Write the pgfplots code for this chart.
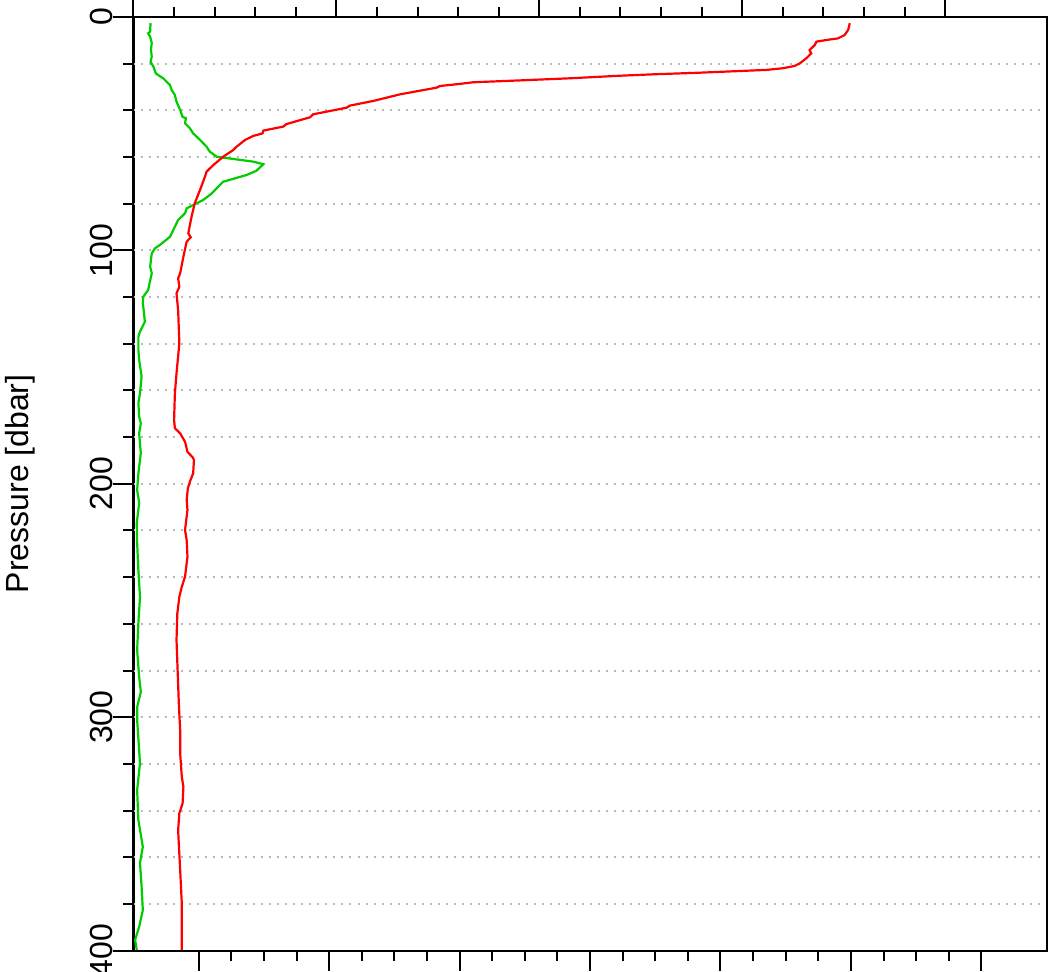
\documentclass[border=0pt]{standalone}
\usepackage{fontspec}
\setmainfont{Liberation Sans}
\usepackage{pgfplots}
\pgfplotsset{compat=1.18}
\definecolor{ctdred}{RGB}{255,0,0}
\definecolor{ctdgreen}{RGB}{0,204,0}
\definecolor{gridgray}{RGB}{185,185,185}

\pgfplotstableread{
T p
17.65 2.7
17.61 5.6
17.52 7.8
17.36 9.2
17.07 9.9
16.83 10.6
16.79 12.0
16.66 14.2
16.70 15.6
16.58 17.7
16.42 19.9
16.29 21.0
16.00 22.0
15.60 22.7
14.77 23.3
13.95 23.9
12.80 24.6
11.98 25.2
10.75 26.3
9.52 27.2
8.37 28.0
8.04 28.7
7.55 29.6
7.47 30.3
7.06 31.6
6.56 33.2
5.91 36.0
5.33 38.0
5.25 38.9
4.43 41.7
4.35 43.0
3.77 45.9
3.69 47.0
3.20 48.7
3.18 49.9
2.95 51.0
2.75 52.7
2.54 55.6
2.46 57.0
2.21 59.9
1.97 63.4
1.80 66.3
1.76 68.5
1.64 74.1
1.51 79.8
1.43 85.6
1.35 92.7
1.41 94.4
1.31 96.3
1.23 102.7
1.15 109.8
1.10 112.0
1.13 115.6
1.06 118.4
1.10 125.6
1.13 139.8
1.06 152.7
1.02 161.2
1.00 172.7
1.02 176.2
1.15 178.4
1.27 182.0
1.33 186.3
1.46 188.7
1.49 189.8
1.47 195.5
1.39 199.1
1.34 201.9
1.31 206.9
1.33 211.2
1.27 219.8
1.31 224.1
1.33 231.2
1.27 239.8
1.19 244.1
1.13 248.4
1.08 255.5
1.06 266.9
1.09 281.2
1.12 295.5
1.15 305.5
1.15 315.4
1.19 325.5
1.23 329.8
1.21 336.9
1.13 341.1
1.10 348.3
1.12 355.5
1.15 365.4
1.19 379.7
1.19 399.7
}\redprofile

\pgfplotstableread{
T p
0.42 2.7
0.41 6.3
0.36 7.0
0.41 8.5
0.45 11.1
0.43 14.2
0.45 17.0
0.42 19.2
0.49 21.3
0.55 24.2
0.73 26.3
0.90 29.2
0.94 31.3
1.02 33.5
1.06 36.3
1.15 39.9
1.21 42.8
1.29 43.4
1.27 45.6
1.39 47.7
1.47 49.9
1.64 52.7
1.80 55.6
1.88 57.7
2.05 59.9
2.95 62.0
3.20 63.1
3.03 65.9
2.79 67.7
2.21 70.6
2.05 73.4
1.93 75.6
1.72 78.4
1.47 80.6
1.31 82.0
1.27 84.1
1.10 87.0
1.06 88.4
0.98 91.3
0.90 94.2
0.65 97.7
0.53 99.1
0.45 101.3
0.41 107.0
0.45 109.8
0.36 117.0
0.24 119.9
0.23 122.7
0.26 127.0
0.28 130.6
0.16 134.8
0.12 137.0
0.12 142.7
0.14 147.0
0.20 154.1
0.16 161.2
0.12 165.5
0.14 171.3
0.18 174.1
0.14 178.4
0.18 186.9
0.12 195.5
0.09 202.7
0.14 208.2
0.08 216.8
0.09 225.4
0.12 236.9
0.16 248.5
0.12 259.6
0.09 271.2
0.14 282.8
0.18 289.2
0.09 295.6
0.09 301.2
0.16 319.7
0.09 331.2
0.12 344.0
0.23 355.5
0.16 362.4
0.20 372.6
0.23 382.6
0.14 389.7
0.04 395.4
0.08 399.7
}\greenprofile

\begin{document}
\begin{tikzpicture}
\pgfplotsset{
  common/.style={
    scale only axis,
    width=456.55pt, height=466.9pt,
    at={(0,0)}, anchor=south west,
    axis line style={line width=1pt, black},
    every tick/.style={line width=1pt, black},
    major tick length=10pt,
    minor tick length=5pt,
    tick align=outside,
    ymin=0, ymax=400, y dir=reverse,
    /pgf/number format/assume math mode=true,
    tick label style={font=\fontsize{16}{19}\selectfont},
  }
}
\begin{axis}[common,
  xmin=-0.5, xmax=6.5,
  xtick={0,1,...,6}, minor x tick num=3,
  xtick pos=left,
  xticklabels={},
  ytick=\empty,
]
\end{axis}
\begin{axis}[common,
  xmin=0, xmax=22.5,
  xtick={0,5,...,20}, minor x tick num=4,
  xtick pos=right,
  xticklabels={},
  ytick={0,100,...,400}, minor y tick num=4,
  ytick pos=left,
  yticklabel style={rotate=90, anchor=south, inner sep=0pt},
  ymajorgrids, yminorgrids,
  major grid style={gridgray, line width=1pt, dash pattern=on 1pt off 3pt},
  minor grid style={gridgray, line width=1pt, dash pattern=on 1pt off 3pt},
  ylabel={Pressure [dbar]},
  every axis y label/.style={at={(axis description cs:-0.1243,0.5)}, rotate=90, anchor=center, font=\fontsize{16}{19}\selectfont},
]
\addplot[ctdgreen, line width=1.1pt, no marks] table[x=T, y=p] {\greenprofile};
\addplot[ctdred, line width=1.1pt, no marks] table[x=T, y=p] {\redprofile};
\end{axis}
\pgfresetboundingbox
\path (-66.75pt,-10.65pt) rectangle (461.25pt,475.35pt);
\end{tikzpicture}
\end{document}
